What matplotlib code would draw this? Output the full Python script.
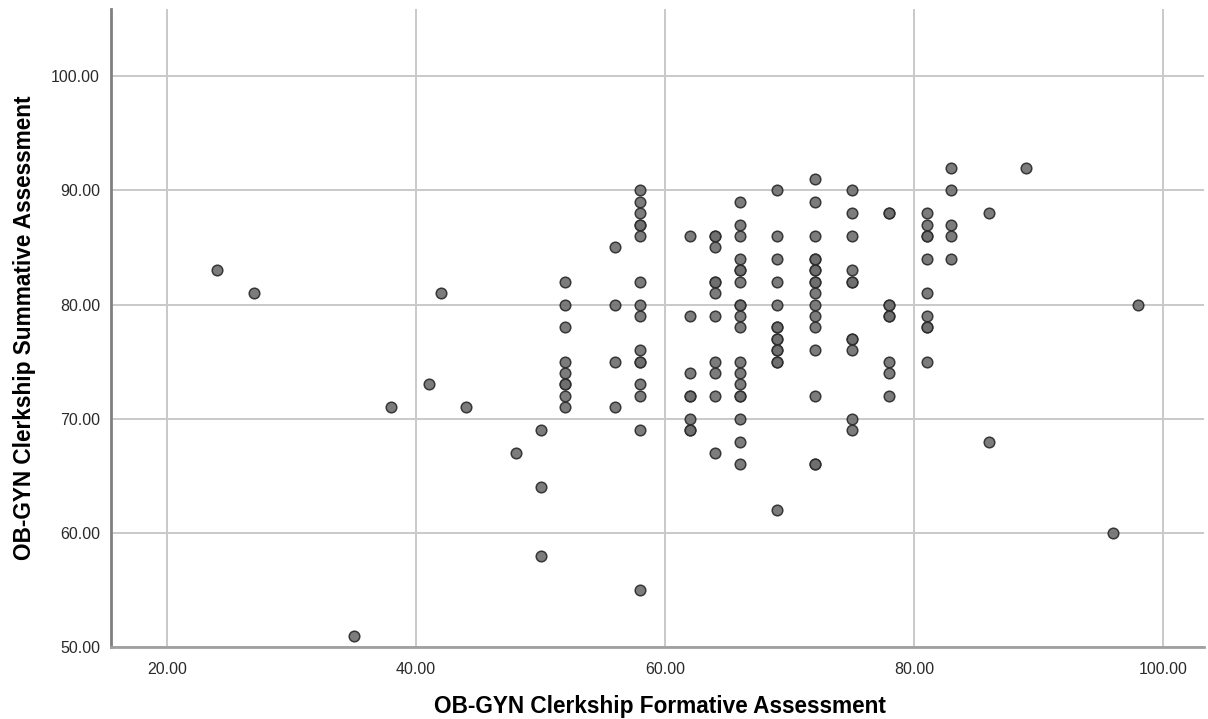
import matplotlib
matplotlib.use("Agg")
import matplotlib.pyplot as plt

# formative score (x) and the summative scores observed at each
formative = [24, 27, 35, 38, 41, 42, 44, 48, 50, 52, 56, 58, 62, 64, 66,
             69, 72, 75, 78, 81, 83, 86, 89, 96, 98]
summative = [
    [83],
    [81],
    [51],
    [71],
    [73],
    [81],
    [71],
    [67],
    [69, 64, 58],
    [82, 80, 78, 75, 74, 73, 73, 72, 71],
    [85, 80, 75, 71],
    [90, 89, 88, 87, 87, 86, 82, 80, 79, 76, 75, 75, 73, 72, 69, 55],
    [86, 79, 74, 72, 72, 70, 69, 69],
    [86, 86, 85, 82, 82, 81, 79, 75, 74, 72, 67],
    [89, 87, 86, 84, 83, 83, 82, 80, 80, 79, 78, 75, 74, 73, 72, 72, 70, 68, 66],
    [90, 86, 84, 82, 80, 78, 78, 77, 77, 76, 76, 75, 75, 62],
    [91, 89, 86, 84, 84, 83, 83, 82, 82, 81, 80, 79, 78, 76, 72, 66, 66],
    [90, 88, 86, 83, 82, 82, 77, 77, 76, 70, 69],
    [88, 88, 80, 80, 79, 79, 75, 74, 72],
    [88, 87, 86, 86, 84, 81, 79, 78, 78, 75],
    [92, 90, 87, 86, 84],
    [88, 68],
    [92],
    [60],
    [80],
]

xticks = [20, 40, 60, 80, 100]
yticks = [50, 60, 70, 80, 90, 100]

xs = [f for f, ys in zip(formative, summative) for _ in ys]
ys = [y for grp in summative for y in grp]

plt.rcParams['font.family'] = ['Liberation Sans', 'DejaVu Sans']

fig = plt.figure(figsize=(12.08, 7.19), dpi=100)
ax = fig.add_axes([0.0919, 0.100, 0.905, 0.887])

ax.scatter(xs, ys, s=58, facecolor='#6e6e6e', edgecolor='#2a2a2a',
           linewidth=1.1, alpha=0.9, zorder=3)

ax.set_xlim(15.5, 103.3)
ax.set_ylim(50, 105.85)
ax.set_xticks(xticks)
ax.set_yticks(yticks)
ax.set_xticklabels([f"{v:.2f}" for v in xticks])
ax.set_yticklabels([f"{v:.2f}" for v in yticks])
ax.tick_params(length=0, labelsize=11.5, colors='#2a2a2a', pad=8)
ax.tick_params(axis='x', pad=11)

ax.grid(True, color='#c9c9c9', linewidth=1.4, zorder=0)
ax.set_axisbelow(True)
for side in ['top', 'right']:
    ax.spines[side].set_visible(False)
ax.spines['left'].set_color('#808080')
ax.spines['left'].set_linewidth(2)
ax.spines['bottom'].set_color('#a0a0a0')
ax.spines['bottom'].set_linewidth(2)

fig.text(0.5464, 0.017, 'OB-GYN Clerkship Formative Assessment',
         ha='center', va='center', fontsize=16.3, fontweight='bold')
fig.text(0.020, 0.544, 'OB-GYN Clerkship Summative Assessment',
         ha='center', va='center', rotation=90, fontsize=16.3, fontweight='bold')

fig.savefig('out.png', dpi=100)
